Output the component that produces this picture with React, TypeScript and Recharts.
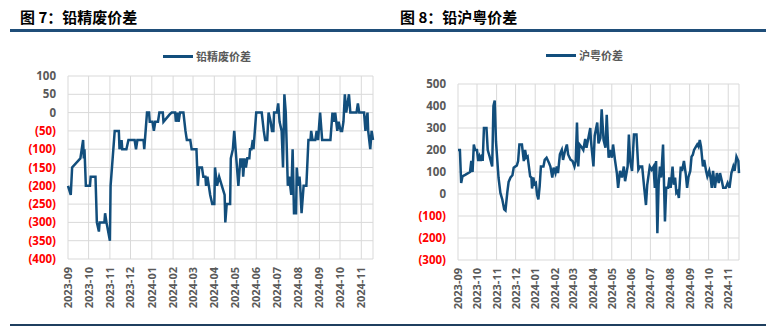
import { LineChart, Line, XAxis, YAxis, CartesianGrid } from "recharts";

const months = [
  "2023-09", "2023-10", "2023-11", "2023-12", "2024-01", "2024-02", "2024-03", "2024-04",
  "2024-05", "2024-06", "2024-07", "2024-08", "2024-09", "2024-10", "2024-11",
];

// x = days since 2023-09-01
const scrapDays = [
  0, 4, 6, 18, 20, 22, 23, 24, 26, 32, 33, 40, 42, 45, 46, 53, 54, 56, 61, 62, 68, 74, 75, 78, 79,
  85, 88, 97, 99, 101, 110, 111, 115, 118, 119, 123, 125, 127, 131, 133, 138, 139, 148, 151, 156,
  157, 159, 161, 163, 168, 171, 173, 178, 180, 187, 189, 191, 195, 197, 200, 201, 203, 205, 207,
  210, 213, 214, 217, 220, 224, 228, 229, 231, 236, 237, 240, 242, 246, 248, 251, 252, 254, 255,
  257, 259, 261, 264, 265, 267, 269, 270, 272, 274, 282, 285, 287, 290, 292, 295, 297, 299, 300,
  304, 306, 308, 311, 313, 315, 317, 320, 322, 325, 327, 329, 332, 333, 335, 337, 338, 340, 343,
  347, 350, 353, 354, 356, 360, 362, 364, 367, 369, 370, 382, 385, 387, 389, 392, 394, 397, 399,
  401, 403, 405, 407, 409, 411, 420, 422, 424, 431, 433, 434, 436, 437, 440, 442, 444,
];
const scrapSpread = [
  -200, -225, -150, -125, -100, -75, -125, -100, -200, -200, -175, -175, -300, -325, -300, -300,
  -275, -300, -350, -200, -50, -50, -100, -75, -100, -100, -75, -75, -100, -75, -75, -100, 0, 0,
  -25, -25, -50, -25, -25, 0, 0, -25, -5, 0, 0, -25, 0, -25, 0, 0, -50, -75, -75, -100, -100,
  -200, -150, -150, -175, -175, -200, -175, -200, -225, -250, -250, -150, -200, -175, -200, -225,
  -300, -250, -250, -125, -100, -50, -150, -200, -125, -150, -125, -175, -125, -150, -125, -125,
  -100, -100, -75, -100, -50, 0, 0, -50, -75, -75, 0, -25, -50, -50, 0, 0, 25, -25, -50, -150,
  50, 0, -200, -175, -225, -100, -275, -275, -150, -200, -175, -200, -275, -200, -200, -75, -75,
  -50, -75, -75, -50, -75, 0, -50, -75, -75, 0, -25, 0, -50, -25, -50, -50, -25, 50, 0, 25, 50,
  0, 0, 25, 0, 0, -50, -25, 0, -50, -100, -50, -75,
];

const regionDays = [
  0, 3, 5, 7, 12, 19, 21, 23, 25, 27, 30, 32, 34, 36, 38, 39, 41, 45, 47, 50, 54, 56, 58, 60, 64,
  67, 70, 73, 75, 78, 80, 83, 86, 88, 93, 95, 97, 101, 104, 106, 108, 110, 114, 116, 117, 119,
  121, 123, 125, 127, 129, 131, 135, 137, 140, 144, 146, 149, 151, 154, 156, 158, 161, 164, 166,
  169, 172, 174, 178, 181, 184, 186, 188, 190, 192, 196, 198, 201, 203, 206, 209, 210, 214, 216,
  220, 222, 225, 227, 230, 233, 235, 238, 240, 243, 245, 248, 251, 253, 256, 259, 262, 264, 268,
  270, 272, 275, 278, 282, 285, 288, 291, 294, 297, 299, 303, 306, 309, 311, 313, 315, 317, 319,
  321, 324, 327, 329, 332, 334, 336, 339, 341, 343, 345, 347, 349, 352, 354, 357, 360, 362, 364,
  367, 369, 371, 373, 376, 378, 380, 382, 384, 387, 389, 392, 394, 397, 399, 401, 403, 406, 409,
  412, 414, 417, 419, 423, 426, 429, 432, 435, 437, 440, 443, 444,
];
const regionSpread = [
  200, 200, 50, 80, 88, 100, 150, 100, 225, 200, 200, 150, 170, 150, 180, 150, 300, 300, 200, 170,
  125, 400, 425, 240, 75, 5, -25, -70, -75, 10, 55, 75, 85, 120, 130, 150, 225, 225, 150, 200,
  165, 170, 80, 75, 25, 75, 45, 50, -3, -25, 35, 125, 125, 155, 165, 140, 125, 75, 120, 95, 125,
  95, 180, 200, 155, 195, 225, 180, 155, 150, 125, 150, 325, 125, 225, 210, 200, 250, 210, 255,
  300, 245, 125, 265, 325, 230, 255, 385, 245, 210, 360, 165, 200, 165, 225, 155, 95, 28, 105, 75,
  125, 58, 125, 270, 150, 105, 270, 270, 110, 125, 125, 35, -50, 42, 125, 110, 125, 28, 150, -178,
  42, 125, 75, 225, -125, 28, 28, 75, 28, 125, 42, 75, 5, 12, -18, 125, 105, 150, 88, 28, 75, 105,
  170, 178, 200, 215, 225, 215, 245, 215, 125, 155, 105, 80, 105, 75, 28, 105, 28, 95, 50, 95, 58,
  28, 28, 50, 28, 95, 125, 105, 170, 150, 95,
];

const scrapTicks = [100, 50, 0, -50, -100, -150, -200, -250, -300, -350, -400];
const regionTicks = [500, 400, 300, 200, 100, 0, -100, -200, -300];

const scrapData = scrapDays.map((d, i) => ({ d, v: scrapSpread[i] }));
const regionData = regionDays.map((d, i) => ({ d, v: regionSpread[i] }));

const DAY = 86400000;
const base = Date.UTC(2023, 8, 1);
const monthTicks = months.map((m) => {
  const [y, mo] = m.split("-").map(Number);
  return Math.round((Date.UTC(y, mo - 1, 1) - base) / DAY);
});
const monthLabel = (d: number) => {
  const i = monthTicks.indexOf(d);
  return i >= 0 ? months[i] : "";
};

const BLUE = "#124E7C";
const GRID = "#D9D9D9";
const GRAY = "#595959";
const NUM_FONT = "'Open Sans', 'Noto Sans', sans-serif";
const CJK_FONT = "'Noto Sans CJK SC', sans-serif";

const fmt = (v: number) => (v < 0 ? `(${Math.abs(v)})` : `${v}`);

function YTick(props: any) {
  const { x, y, payload } = props;
  const v = payload.value as number;
  return (
    <text x={x} y={y} dy="0.35em" textAnchor="end" fontFamily={NUM_FONT} fontWeight={700}
      fontSize={11.5} fill={v < 0 ? "#FF0000" : GRAY}>
      {fmt(v)}
    </text>
  );
}

function XTick(props: any) {
  const { x, y, payload } = props;
  return (
    <text x={x} y={y} transform={`rotate(-90, ${x}, ${y})`} dy="0.36em" textAnchor="end"
      fontFamily={NUM_FONT} fontWeight={700} fontSize={11} fill={GRAY}>
      {monthLabel(payload.value)}
    </text>
  );
}

function Panel({ data, ticks, domain, margin }: any) {
  return (
    <LineChart width={margin.w} height={326} data={data}
      margin={{ top: margin.top, right: margin.right, bottom: margin.bottom, left: 0 }}>
      <CartesianGrid stroke={GRID} strokeWidth={1} />
      <XAxis dataKey="d" type="number" domain={[0, 444]} ticks={monthTicks} interval={0}
        axisLine={false} tickLine={false} tickSize={0} tickMargin={8} height={55} tick={<XTick />} />
      <YAxis type="number" domain={domain} ticks={ticks} interval={0} axisLine={false}
        tickLine={false} tickSize={0} tickMargin={12} width={68} tick={<YTick />} />
      <Line type="linear" dataKey="v" stroke={BLUE} strokeWidth={2.5} dot={false}
        isAnimationActive={false} />
    </LineChart>
  );
}

function Header({ left, width, title, legend, legendLeft, legendTop }: any) {
  return (
    <>
      <div style={{ position: "absolute", left: left + 10, top: 7, fontFamily: CJK_FONT,
        fontWeight: 700, fontSize: 15, lineHeight: "20px", color: "#000", whiteSpace: "nowrap" }}>
        {title}
      </div>
      <div style={{ position: "absolute", left, top: 29, width, height: 3, background: "#1F4E79" }} />
      <div style={{ position: "absolute", left, top: 324, width, height: 2, background: "#1F3F5F" }} />
      <div style={{ position: "absolute", left: legendLeft, top: legendTop, display: "flex",
        alignItems: "center", fontFamily: CJK_FONT, fontWeight: 700, fontSize: 11, color: GRAY }}>
        <span style={{ display: "inline-block", width: 30, height: 3, background: BLUE, marginRight: 3 }} />
        <span style={{ lineHeight: "14px" }}>{legend}</span>
      </div>
    </>
  );
}

export default function App() {
  return (
    <div style={{ position: "fixed", left: 0, top: 0, width: 783, height: 326, background: "#fff",
      overflow: "hidden" }}>
      <Header left={10} width={380} title="图 7：铅精废价差" legend="铅精废价差" legendLeft={163} legendTop={49} />
      <Header left={390} width={376} title="图 8：铅沪粤价差" legend="沪粤价差" legendLeft={546} legendTop={48} />
      <div style={{ position: "absolute", left: 0, top: 0 }}>
        <Panel data={scrapData} ticks={scrapTicks} domain={[-400, 100]}
          margin={{ w: 390, top: 76, right: 17, bottom: 12 }} />
      </div>
      <div style={{ position: "absolute", left: 390, top: 0 }}>
        <Panel data={regionData} ticks={regionTicks} domain={[-300, 500]}
          margin={{ w: 393, top: 84, right: 44, bottom: 11 }} />
      </div>
    </div>
  );
}
